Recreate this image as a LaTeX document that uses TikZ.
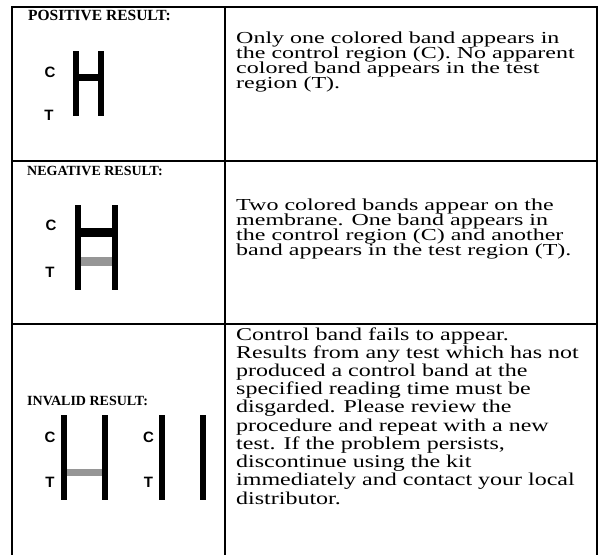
\documentclass[tikz,border=0pt]{standalone}
\usepackage{fontspec}
\usepackage{graphicx}
\setmainfont{Liberation Serif}
\newfontfamily\labfont{Liberation Sans}
\definecolor{bandgray}{RGB}{150,150,150}
% #1 = vertical squeeze, #2 = line distance before the squeeze, #3 = the lines
\newcommand{\bodytext}[3]{\scalebox{1}[#1]{\parbox[t]{360pt}{\fontsize{24}{#2}\selectfont\setlength\lineskiplimit{-100pt}\raggedright #3}}}
\begin{document}
\begin{tikzpicture}[x=1pt,y=1pt,
  frame/.style={line width=2pt, line cap=rect},
  hdr/.style={anchor=base west, inner sep=0, font=\bfseries\fontsize{14}{14}\selectfont},
  lab/.style={inner sep=0, font=\labfont\bfseries\fontsize{15}{15}\selectfont},
  body/.style={anchor=base west, inner sep=0}]
\useasboundingbox (0,0) rectangle (599,-554);
\fill[white] (0,0) rectangle (599,-554);
% table frame
\draw[frame] (12,-554) -- (12,-7) -- (597,-7) -- (597,-554);
\draw[frame] (225,-7) -- (225,-554);
\draw[frame] (12,-161) -- (597,-161);
\draw[frame] (12,-324) -- (597,-324);
% headers
\node[hdr, font=\bfseries\fontsize{15.5}{15.5}\selectfont] (hpos) at (28,-20) {POSITIVE RESULT:};
\node[hdr] (hneg) at (27,-175) {NEGATIVE RESULT:};
\node[hdr] (hinv) at (27,-405) {INVALID RESULT:};
% positive
\node[lab] (pc) at (50,-72) {C};
\node[lab] (pt) at (49,-115) {T};
\fill (73,-51) rectangle (79,-116);
\fill (98,-51) rectangle (104,-116);
\fill (79,-73.5) rectangle (98,-80.5);
% negative
\node[lab] (nc) at (51,-225) {C};
\node[lab] (nt) at (50,-272) {T};
\fill (75,-205) rectangle (81,-290);
\fill (112,-205) rectangle (118,-290);
\fill (81,-228) rectangle (112,-237);
\fill[bandgray] (81,-257) rectangle (112,-266);
% invalid
\node[lab] (ic1) at (50,-437) {C};
\node[lab] (it1) at (50,-482) {T};
\fill (60.5,-415) rectangle (66.5,-500);
\fill (102,-415) rectangle (108,-500);
\fill[bandgray] (66.5,-468.5) rectangle (102,-475.5);
\node[lab] (ic2) at (148.5,-437) {C};
\node[lab] (it2) at (148.5,-482) {T};
\fill (158.5,-415) rectangle (164.5,-500);
\fill (199.5,-415) rectangle (205.5,-500);
% body texts
\node[body] (tpos) at (236,-43) {\bodytext{0.7}{21.9}{Only one colored band appears in\\ the control region (C). No apparent\\ colored band appears in the test\\ region (T).}};
\node[body] (tneg) at (236,-210) {\bodytext{0.7}{21.9}{Two colored bands appear on the\\ membrane. One band appears in\\ the control region (C) and another\\ band appears in the test region (T).}};
\node[body] (tinv) at (236,-340) {\bodytext{0.75}{24.3}{Control band fails to appear.\\ Results from any test which has not\\ produced a control band at the\\ specified reading time must be\\ disgarded. Please review the\\ procedure and repeat with a new\\ test. If the problem persists,\\ discontinue using the kit\\ immediately and contact your local\\ distributor.}};
\end{tikzpicture}
\end{document}
